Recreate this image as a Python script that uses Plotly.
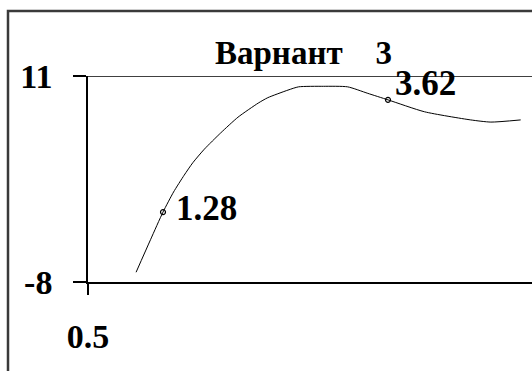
import plotly.graph_objects as go

# Curve samples (x, y)
curve_x = [1.0, 1.15, 1.28, 1.39, 1.5, 1.59, 1.71, 1.88, 2.06, 2.27, 2.37, 2.58,
           2.69, 2.95, 3.2, 3.41, 3.62, 4.0, 4.48, 4.69, 5.0]
curve_y = [-7.1, -4.1, -1.55, 0.3, 1.85, 3.0, 4.25, 5.75, 7.2, 8.5, 9.0, 9.7,
           10.0, 10.05, 10.0, 9.4, 8.8, 7.7, 6.95, 6.75, 6.95]

# Marked points with their labels
mark_x = [1.28, 3.62]
mark_y = [-1.55, 8.8]
mark_labels = ["1.28", "3.62"]

# Axis ticks
y_ticks = [-8, 11]
x_ticks = [0.5]

title_text = "Варнант\u00a0\u00a0\u00a0\u00a03"

W, H = 532, 371
L, R, T, B = 88, 0, 76, 89
SERIF = "Liberation Serif, Times New Roman, DejaVu Serif, serif"

fig = go.Figure()
fig.add_trace(go.Scatter(
    x=curve_x, y=curve_y, mode="lines",
    line=dict(color="black", width=1, shape="spline", smoothing=0.6),
    hoverinfo="skip", showlegend=False,
))
fig.add_trace(go.Scatter(
    x=mark_x, y=mark_y, mode="markers",
    marker=dict(symbol="circle-open", size=5, color="black", line=dict(width=1.2)),
    showlegend=False,
))

label_font = dict(family=SERIF, size=35, color="black")
offsets = [(11, 4), (5, 16)]
for xv, yv, txt, (dx, dy) in zip(mark_x, mark_y, mark_labels, offsets):
    fig.add_annotation(x=xv, y=yv, text="<b>" + txt + "</b>", showarrow=False,
                       xanchor="left", yanchor="middle", xshift=dx, yshift=dy,
                       font=label_font)

pw = W - L - R
ph = H - T - B
fig.add_annotation(xref="paper", yref="paper", x=(303 - L) / pw, y=(H - B - 53) / ph,
                   text="<b>" + title_text + "</b>", showarrow=False,
                   xanchor="center", yanchor="middle",
                   font=dict(family=SERIF, size=33, color="black"))

# Top line at y = 11, extended left as a tick
fig.add_shape(type="line", xref="paper", yref="y", x0=(75 - L) / pw, x1=1.05, y0=11, y1=11,
              line=dict(color="black", width=1.6))
# Outer frame (left and top edges)
fx = (8 - L) / pw
fy = (H - B - 11) / ph
fig.add_shape(type="path", xref="paper", yref="paper",
              path=f"M {fx} -1 L {fx} {fy} L 1.1 {fy}",
              line=dict(color="#3a3a3a", width=2.5))

fig.update_layout(
    width=W, height=H,
    margin=dict(l=L, r=R, t=T, b=B, pad=0),
    paper_bgcolor="white", plot_bgcolor="white",
    xaxis=dict(range=[0.5, 0.5 + pw / 96.15], tickvals=x_ticks, ticktext=["<b>0.5</b>"],
               showgrid=False, zeroline=False, showline=True, linecolor="black",
               linewidth=1.6, ticks="outside", ticklen=11, tickwidth=1.6,
               tickcolor="black", ticklabelstandoff=12,
               tickfont=dict(family=SERIF, size=34, color="black")),
    yaxis=dict(range=[-8, 11], tickvals=y_ticks, ticktext=["<b>-8</b>", "<b>11</b>"],
               showgrid=False, zeroline=False, showline=True, linecolor="black",
               linewidth=1.6, ticks="outside", ticklen=13, tickwidth=1.6,
               tickcolor="black", ticklabelstandoff=14,
               tickfont=dict(family=SERIF, size=34, color="black")),
)

fig.write_html("out.html")
